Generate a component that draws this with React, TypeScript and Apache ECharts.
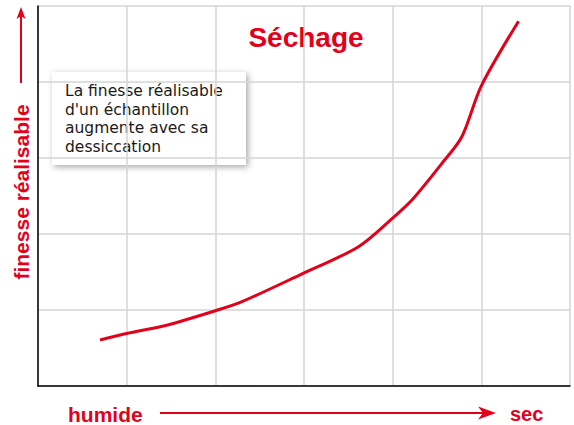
import React, { useEffect, useRef } from "react";
import * as echarts from "echarts";

const RED = "#e3001b";

// curve: x = humidity progression (humide -> sec), y = achievable fineness
const curveX = [0.7, 1.0, 1.45, 2.0, 2.3, 2.95, 3.61, 4.0, 4.22, 4.57, 4.78, 5.0, 5.42];
const curveY = [0.605, 0.69, 0.8, 0.99, 1.11, 1.46, 1.83, 2.21, 2.45, 2.95, 3.28, 3.95, 4.8];

const titleText = "Séchage";
const noteLines = ["La finesse réalisable", "d'un échantillon", "augmente avec sa", "dessiccation"];
const yLabel = "finesse réalisable";
const xLabelLeft = "humide";
const xLabelRight = "sec";

export default function App() {
  const ref = useRef<HTMLDivElement>(null);
  useEffect(() => {
    if (!ref.current) return;
    const chart = echarts.init(ref.current, null, { renderer: "svg" });
    const data = curveX.map((x, i) => [x, curveY[i]]);
    chart.setOption({
      animation: false,
      grid: { left: 38, right: 4, top: 6, bottom: 39 },
      xAxis: {
        type: "value",
        min: 0,
        max: 6,
        interval: 1,
        axisLabel: { show: false },
        axisTick: { show: false },
        axisLine: { show: true, onZero: false, lineStyle: { color: "#000", width: 1.5 } },
        splitLine: { show: true, lineStyle: { color: "#d4d4d4", width: 1.5 } },
      },
      yAxis: {
        type: "value",
        min: 0,
        max: 5,
        interval: 1,
        axisLabel: { show: false },
        axisTick: { show: false },
        axisLine: { show: true, lineStyle: { color: "#000", width: 1.5 } },
        splitLine: { show: true, lineStyle: { color: "#d4d4d4", width: 1.5 } },
      },
      series: [
        {
          type: "line",
          data,
          smooth: 0.3,
          showSymbol: false,
          lineStyle: { color: RED, width: 3 },
        },
      ],
      graphic: [
        {
          type: "text",
          x: 306,
          y: 37,
          style: {
            text: titleText,
            fill: RED,
            font: "bold 28px 'Liberation Sans', Arial, sans-serif",
            align: "center",
            verticalAlign: "middle",
          },
        },
        {
          type: "rect",
          shape: { x: 52, y: 72, width: 194, height: 93 },
          style: {
            fill: "#fff",
            shadowBlur: 6,
            shadowOffsetX: 2,
            shadowOffsetY: 2,
            shadowColor: "rgba(0,0,0,0.35)",
          },
        },
        {
          type: "text",
          x: 65,
          y: 82,
          style: {
            text: noteLines.join("\n"),
            fill: "#1a1a1a",
            font: "15.5px 'DejaVu Sans', Verdana, sans-serif",
            lineHeight: 18.5,
            align: "left",
            verticalAlign: "top",
          },
        },
        {
          type: "line",
          shape: { x1: 21, y1: 83, x2: 21, y2: 16 },
          style: { stroke: RED, lineWidth: 2 },
        },
        {
          type: "polygon",
          shape: { points: [[21, 7], [25.5, 19], [21, 16], [16.5, 19]] },
          style: { fill: RED },
        },
        {
          type: "text",
          x: 21,
          y: 192,
          rotation: Math.PI / 2,
          style: {
            text: yLabel,
            fill: RED,
            font: "bold 21px 'Liberation Sans', Arial, sans-serif",
            align: "center",
            verticalAlign: "middle",
          },
        },
        {
          type: "text",
          x: 68,
          y: 414,
          style: {
            text: xLabelLeft,
            fill: RED,
            font: "bold 21px 'Liberation Sans', Arial, sans-serif",
            align: "left",
            verticalAlign: "middle",
          },
        },
        {
          type: "line",
          shape: { x1: 160, y1: 413, x2: 484, y2: 413 },
          style: { stroke: RED, lineWidth: 2 },
        },
        {
          type: "polygon",
          shape: { points: [[496, 413], [478, 406.5], [483, 413], [478, 419.5]] },
          style: { fill: RED },
        },
        {
          type: "text",
          x: 510,
          y: 414,
          style: {
            text: xLabelRight,
            fill: RED,
            font: "bold 20px 'Liberation Sans', Arial, sans-serif",
            align: "left",
            verticalAlign: "middle",
          },
        },
      ],
    });
    return () => chart.dispose();
  }, []);
  return <div ref={ref} style={{ width: 574, height: 425, position: "absolute", left: 0, top: 0 }} />;
}
